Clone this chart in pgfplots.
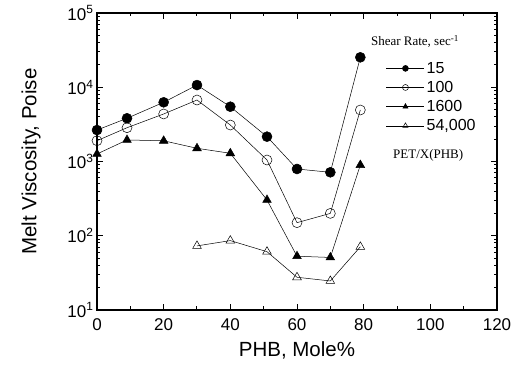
\documentclass[border=0pt]{standalone}
\usepackage{fontspec}
\setmainfont{Liberation Sans}
\newfontfamily\serifft{Liberation Serif}
\usepackage{pgfplots}
\pgfplotsset{compat=1.18}
\begin{document}
\begin{tikzpicture}
\begin{axis}[
  scale only axis, width=400pt, height=297pt,
  ymode=log, xmin=0, xmax=120, ymin=10, ymax=100000,
  xtick={0,20,...,120}, minor xtick={10,30,...,110},
  ytick={10,100,1000,10000,100000},
  yticklabels={10\textsuperscript{1},10\textsuperscript{2},10\textsuperscript{3},10\textsuperscript{4},10\textsuperscript{5}},
  /pgf/number format/assume math mode=true,
  ticklabel style={font=\fontsize{17}{19}\selectfont},
  xticklabel style={yshift=-5pt},
  tick align=inside, major tick length=6pt, minor tick length=3.5pt,
  axis line style={line width=1.4pt}, every tick/.style={line width=1pt,black},
  xlabel={PHB, Mole\%}, ylabel={Melt Viscosity, Poise},
  label style={font=\fontsize{20.5}{23}\selectfont},
  xlabel style={yshift=-4pt}, ylabel style={yshift=20pt},
  legend cell align=left,
  legend style={draw=none, fill=none, at={(rel axis cs:0.7225,0.842)}, anchor=north west,
    font=\fontsize{16}{18}\selectfont, row sep=2.5pt, inner sep=0pt},
  legend image code/.code={\draw[mark repeat=2,mark phase=2,mark size=3pt] plot coordinates {(0pt,0pt)(19pt,0pt)(38pt,0pt)};},
  every axis plot/.append style={black, line width=0.5pt, mark size=5pt},
  clip=false,
]
\coordinate (O) at (rel axis cs:0,0);
\addplot[mark=*, mark options={fill=black}] coordinates {
 (0,2650) (9,3820) (20,6270) (30,10700) (40,5470) (51,2160) (60,793) (70,715) (79,25300)};
\addlegendentry{15}
\addplot[mark=o] coordinates {
 (0,1905) (9,2850) (20,4365) (30,6730) (40,3100) (51,1047) (60,150) (70,200) (79,4940)};
\addlegendentry{100}
\addplot[mark=triangle*, mark options={fill=black}] coordinates {
 (0,1262) (9,1950) (20,1900) (30,1506) (40,1290) (51,303) (60,53) (70,51) (79,897)};
\addlegendentry{1600}
\addplot[mark=triangle] coordinates {
 (30,73) (40,86) (51,61) (60,27.6) (70,24.6) (79,71)};
\addlegendentry{54,000}
\node[anchor=center, font=\serifft\fontsize{13}{15}\selectfont] at (rel axis cs:0.795,0.905) {Shear Rate, sec\textsuperscript{-1}};
\node[anchor=center, font=\serifft\fontsize{13}{15}\selectfont] at (rel axis cs:0.828,0.52) {PET/X(PHB)};
\end{axis}
\pgfresetboundingbox
\path (O) ++(-97pt,-61pt) rectangle ++(520pt,371pt);
\end{tikzpicture}
\end{document}
